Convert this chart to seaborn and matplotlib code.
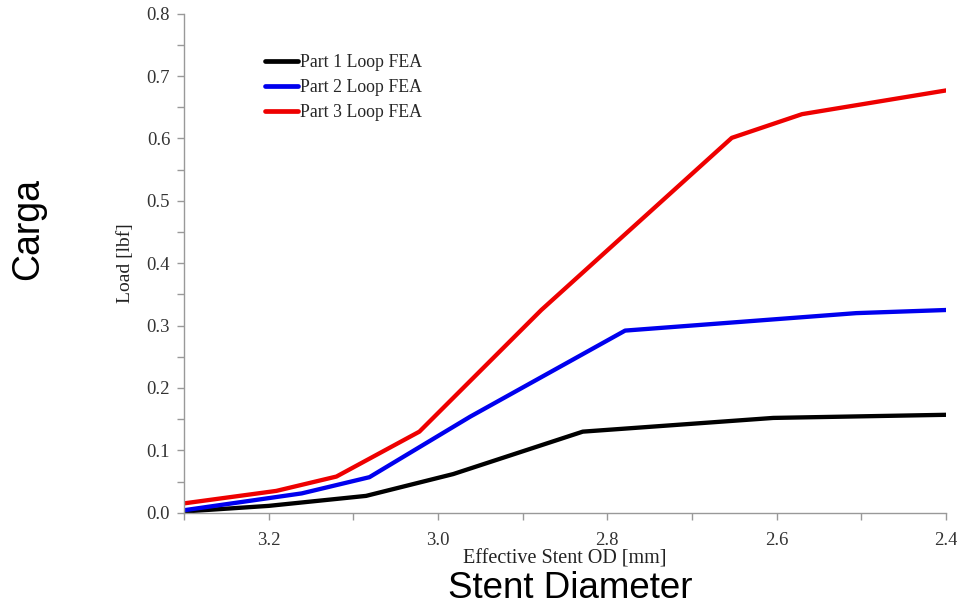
import matplotlib
matplotlib.use("Agg")
import matplotlib.pyplot as plt
from matplotlib.ticker import MultipleLocator
import pandas as pd
import seaborn as sns

# Load vs. effective stent OD for the three loop FEA models
series_names = ["Part 1 Loop FEA", "Part 2 Loop FEA", "Part 3 Loop FEA"]

od_part1 = [3.30, 3.20, 3.085, 2.982, 2.829, 2.604, 2.40]
load_part1 = [0.002, 0.011, 0.027, 0.062, 0.130, 0.152, 0.157]

od_part2 = [3.30, 3.161, 3.081, 2.962, 2.779, 2.506, 2.40]
load_part2 = [0.004, 0.031, 0.057, 0.154, 0.292, 0.320, 0.325]

od_part3 = [3.30, 3.191, 3.120, 3.022, 2.878, 2.653, 2.570, 2.40]
load_part3 = [0.015, 0.035, 0.058, 0.130, 0.325, 0.601, 0.639, 0.677]

x_ticks = [3.2, 3.0, 2.8, 2.6, 2.4]
y_ticks = [0.0, 0.1, 0.2, 0.3, 0.4, 0.5, 0.6, 0.7, 0.8]

line_colors = ["#000000", "#0000ee", "#ee0000"]

frames = []
for name, od, load in zip(series_names,
                          [od_part1, od_part2, od_part3],
                          [load_part1, load_part2, load_part3]):
    frames.append(pd.DataFrame({"od": od, "load": load, "series": name}))
df = pd.concat(frames, ignore_index=True)

sns.set_style("white")
plt.rcParams["font.family"] = ["Liberation Serif", "DejaVu Serif"]

fig = plt.figure(figsize=(9.57, 6.07), dpi=100)
ax = fig.add_axes([0.1923, 0.1553, 0.7962, 0.8221])

sns.lineplot(data=df, x="od", y="load", hue="series", palette=line_colors,
             sort=False, estimator=None, linewidth=3.1, ax=ax)

ax.set_xlim(3.3, 2.4)
ax.set_ylim(0.0, 0.8)
ax.set_xticks(x_ticks)
ax.set_xticklabels([f"{v:.1f}" for v in x_ticks])
ax.set_yticks(y_ticks)
ax.set_yticklabels([f"{v:.1f}" for v in y_ticks])
ax.xaxis.set_minor_locator(MultipleLocator(0.1))
ax.yaxis.set_minor_locator(MultipleLocator(0.05))

for side in ["top", "right"]:
    ax.spines[side].set_visible(False)
for side in ["left", "bottom"]:
    ax.spines[side].set_color("#999999")
    ax.spines[side].set_linewidth(1.0)

ax.tick_params(axis="both", which="both", direction="out", color="#999999",
               bottom=True, left=True, length=5, width=1,
               labelsize=13.5, labelcolor="#333333")
ax.tick_params(axis="x", which="both", pad=9)
ax.tick_params(axis="y", which="both", pad=5)

ax.set_xlabel("Effective Stent OD [mm]", fontsize=14.5, color="#222222",
              labelpad=0)
ax.set_ylabel("Load [lbf]", fontsize=14, color="#222222", labelpad=9)

leg = ax.legend(loc="upper left", bbox_to_anchor=(0.097, 0.934), frameon=False,
                fontsize=12.8, handlelength=1.85, handletextpad=0.1,
                labelspacing=0.45, borderaxespad=0)
for line in leg.get_lines():
    line.set_linewidth(3.4)

fig.text(0.5956, 0.031, "Stent Diameter", family="Liberation Sans",
         fontsize=26.5, ha="center", va="center", color="#000000")
fig.text(0.029, 0.623, "Carga", family="Liberation Sans", fontsize=27,
         rotation=90, ha="center", va="center", color="#000000")

fig.savefig("out.png", dpi=100, facecolor="white")
